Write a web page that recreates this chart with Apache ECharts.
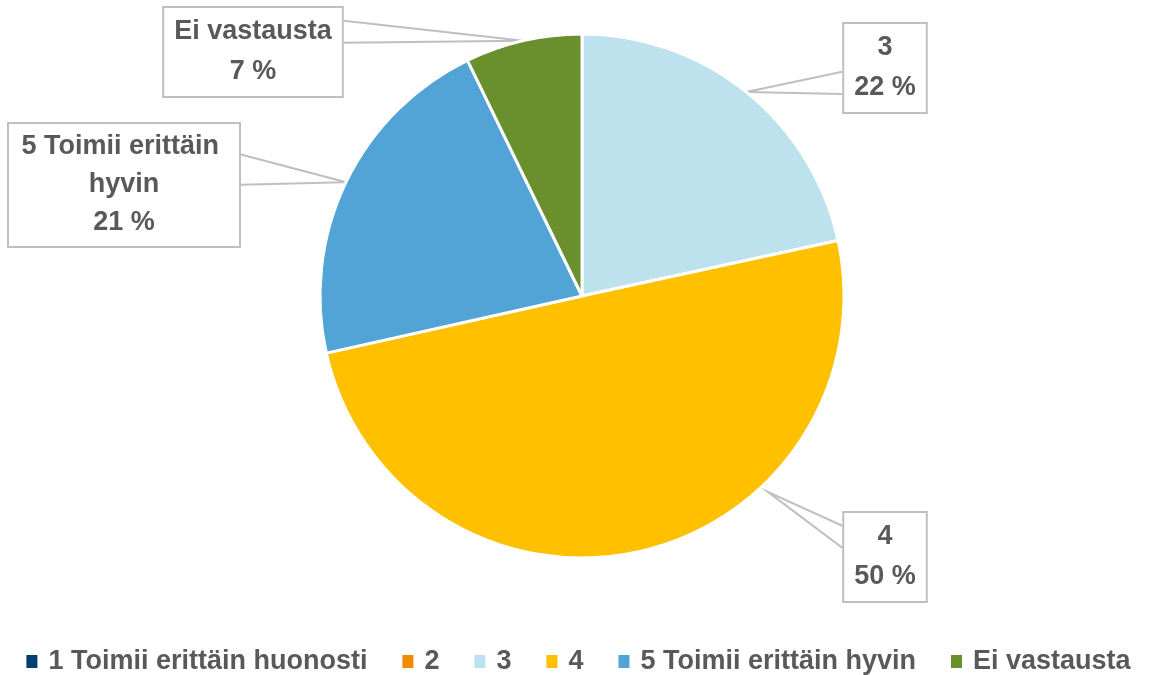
<!DOCTYPE html>
<html>
<head>
<meta charset="utf-8">
<script src="https://cdn.jsdelivr.net/npm/echarts@6/dist/echarts.min.js"></script>
<style>
  html, body { margin: 0; padding: 0; background: #fff; }
  #chart { width: 1155px; height: 675px; }
</style>
</head>
<body>
<div id="chart"></div>
<script>
const categories = ['1 Toimii erittäin huonosti', '2', '3', '4', '5 Toimii erittäin hyvin', 'Ei vastausta'];
const shares = [0, 0, 21.6, 49.9, 21.3, 7.2];
const colors = ['#003f72', '#f08c00', '#bde2ee', '#ffc000', '#52a3d6', '#6a8f2d'];

// where each callout box sits (centre, px)
const labelSpots = { 2: [885, 68], 3: [885, 557], 4: [124, 185], 5: [253, 52] };
// callout for "4" points at this angle (deg clockwise from 12 o'clock) instead of the slice middle
const pointerAngles = { 3: 136.5 };

const FONT = '"Liberation Sans", Arial, sans-serif';
const CX = 582, CY = 296, R = 262;

const chart = echarts.init(document.getElementById('chart'));

const data = categories.map((name, i) => {
  const item = { name: name, value: shares[i], itemStyle: { color: colors[i] } };
  if (shares[i] === 0) {
    item.label = { show: false };
    item.labelLine = { show: false };
  }
  if (i === 4) item.label = { width: 222, overflow: 'break', lineHeight: 38, padding: [4, 4, 4, 4] };
  return item;
});

chart.setOption({
  animation: false,
  backgroundColor: '#fff',
  legend: {
    top: 643,
    left: 'center',
    icon: 'rect',
    itemWidth: 13,
    itemHeight: 15,
    itemGap: 33,
    textStyle: { fontFamily: FONT, fontSize: 27, fontWeight: 'bold', color: '#595959', padding: [0, 0, 0, 5] },
    data: categories
  },
  series: [{
    type: 'pie',
    center: [CX, CY],
    radius: R,
    startAngle: 90,
    clockwise: true,
    percentPrecision: 0,
    itemStyle: { borderColor: '#fff', borderWidth: 3 },
    label: {
      show: true,
      position: 'outside',
      formatter: '{b}\n{d} %',
      fontFamily: FONT,
      fontSize: 27,
      fontWeight: 'bold',
      color: '#595959',
      lineHeight: 40,
      align: 'center',
      backgroundColor: '#fff',
      borderColor: '#bfbfbf',
      borderWidth: 2,
      padding: [4, 10, 4, 10]
    },
    labelLine: {
      show: true,
      length: 20,
      length2: 20,
      lineStyle: { color: '#bfbfbf', width: 2 }
    },
    labelLayout: function (p) {
      const spot = labelSpots[p.dataIndex];
      if (!spot || !p.labelLinePoints) return {};
      const w = p.labelRect.width, h = p.labelRect.height;
      let tip = p.labelLinePoints[0];
      const a = pointerAngles[p.dataIndex];
      if (a != null) {
        const rad = a * Math.PI / 180;
        tip = [CX + (R + 8) * Math.sin(rad), CY - (R + 8) * Math.cos(rad)];
      }
      const top = spot[1] - h / 2, bottom = spot[1] + h / 2;
      const sideX = tip[0] < spot[0] ? spot[0] - w / 2 : spot[0] + w / 2;
      const mid = Math.min(Math.max(tip[1] - 0.1 * h, top + 0.28 * h), bottom - 0.3 * h);
      return {
        x: spot[0],
        y: spot[1],
        align: 'center',
        verticalAlign: 'middle',
        labelLinePoints: [[sideX, mid - 0.12 * h], [tip[0], tip[1]], [sideX, mid + 0.12 * h]]
      };
    },
    data: data
  }]
});
</script>
</body>
</html>
